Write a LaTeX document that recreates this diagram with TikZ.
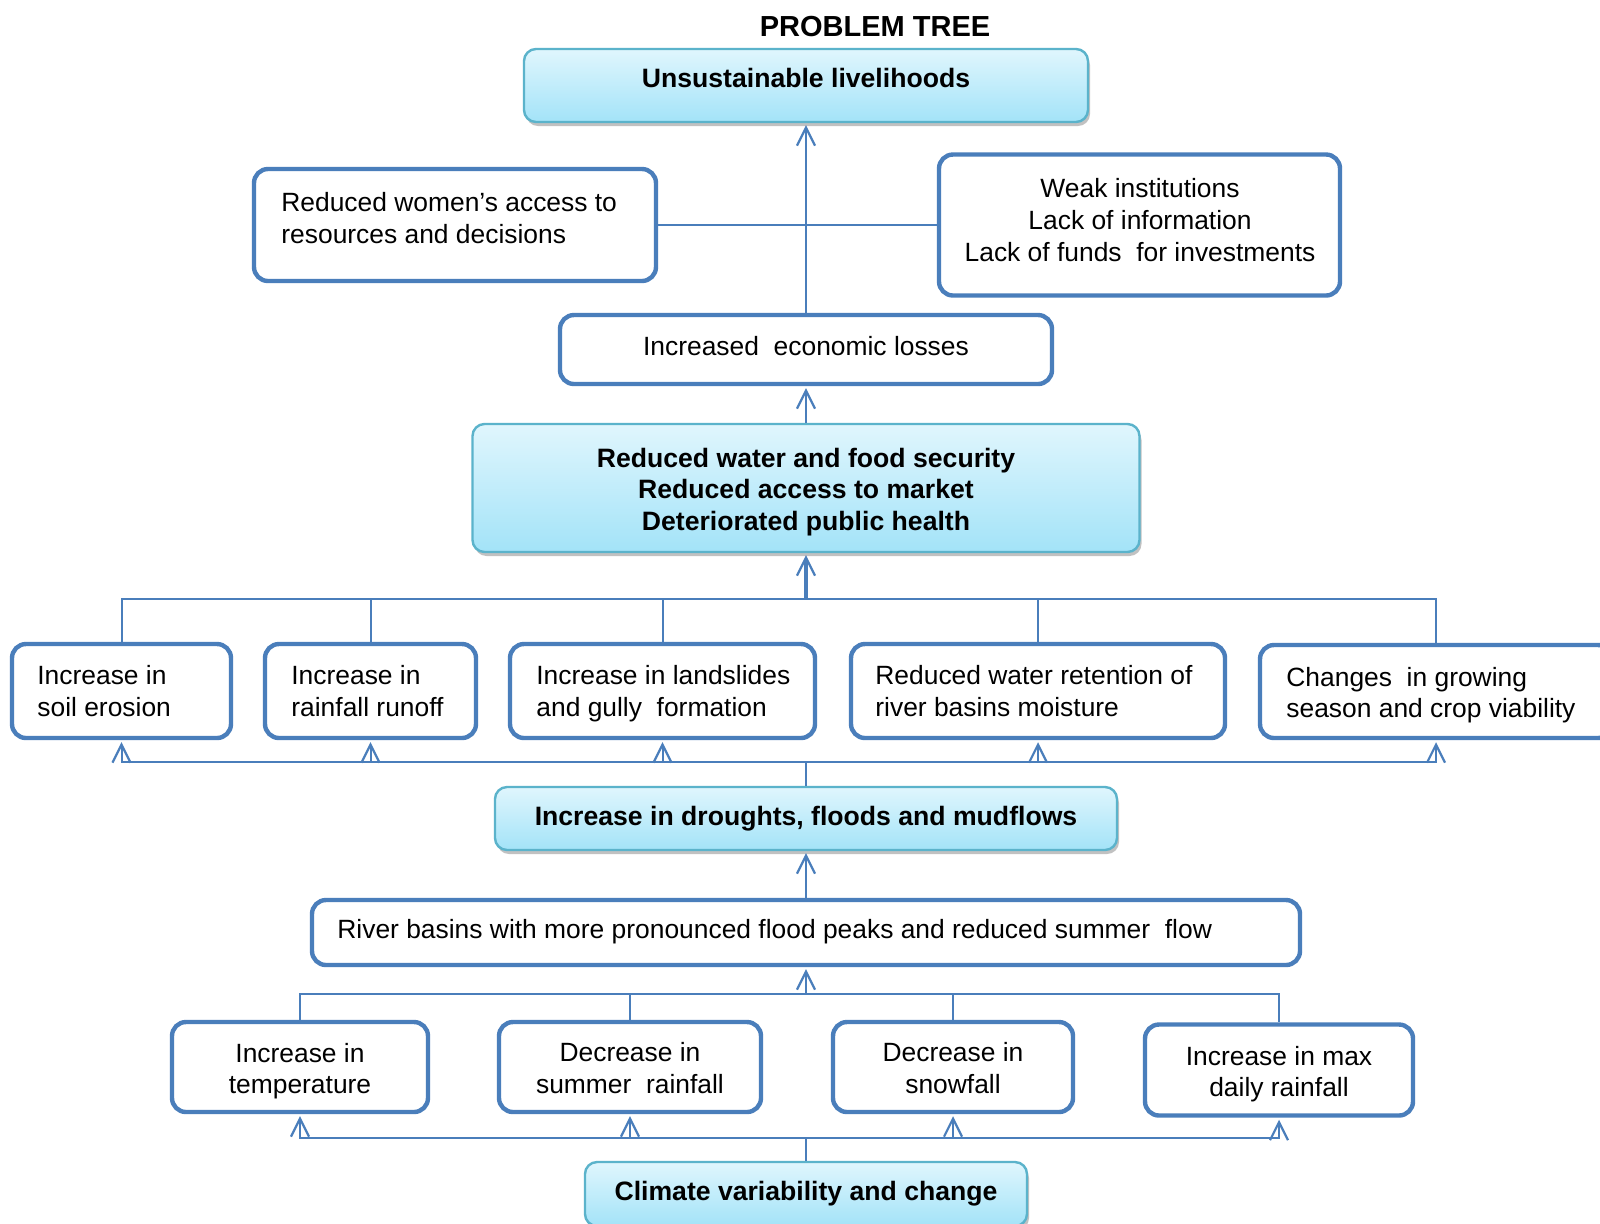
\documentclass[tikz,border=0pt]{standalone}
\usepackage{fontspec}
\setmainfont{Liberation Sans}
\usetikzlibrary{arrows.meta,shadows}
\definecolor{lineblue}{HTML}{4A7EBB}
\definecolor{gtop}{HTML}{E0F6FD}
\definecolor{gbot}{HTML}{A3E3F8}
\definecolor{gedge}{HTML}{5BB3CB}
\begin{document}
\begin{tikzpicture}[x=0.5pt,y=-0.5pt,
  wbox/.style={draw=lineblue, line width=2.2pt, rounded corners=7pt, fill=white, inner sep=0pt},
  gbox/.style={draw=gedge, line width=1.2pt, rounded corners=6pt, top color=gtop, bottom color=gbot, inner sep=0pt,
     drop shadow={shadow xshift=1pt, shadow yshift=-2pt, opacity=0.4, fill=black!60}},
  txt/.style={inner sep=0pt, font=\fontsize{13.2}{15.8}\selectfont},
  btxt/.style={inner sep=0pt, font=\fontsize{13.3}{15.8}\selectfont\bfseries},
  con/.style={draw=lineblue, line width=1pt},
  arr/.style={-{Straight Barb[length=9pt,width=9pt,line width=1.1pt]}, shorten >=1pt}]
\useasboundingbox (0,0) rectangle (1600,1223);
\clip (0,0) rectangle (1600,1223);
\fill[white] (0,0) rectangle (1600,1223);

% title
\node[inner sep=0pt, font=\fontsize{14.5}{17}\selectfont\bfseries] (title) at (875,27) {PROBLEM TREE};

% top
\node[gbox, minimum width=282pt, minimum height=36.5pt] (top) at (806,85.5) {};
\node[btxt] (ttop) at (806,78) {Unsustainable livelihoods};

% side boxes
\node[wbox, minimum width=201pt, minimum height=56pt] (women) at (455,225) {};
\node[txt, align=left, anchor=west] (twomen) at (281,218) {Reduced women’s access to\\resources and decisions};
\node[wbox, minimum width=200.5pt, minimum height=70.5pt] (weak) at (1139.5,225) {};
\node[txt, align=center] (tweak) at (1140,220) {Weak institutions\\Lack of information\\Lack of funds\ \ for investments};

% economic losses
\node[wbox, minimum width=246pt, minimum height=34.5pt] (econ) at (806,349.5) {};
\node[txt] (tecon) at (806,346) {Increased\ \ economic losses};

% middle
\node[gbox, minimum width=333.5pt, minimum height=64pt] (mid) at (806,488) {};
\node[btxt, align=center] (tmid) at (806,492) {Reduced water and food security\\Reduced access to market\\Deteriorated public health};

% effect boxes
\node[wbox, minimum width=109.5pt, minimum height=47pt] (e1) at (121.5,691) {};
\node[txt, align=left, anchor=west] (te1) at (37,691) {Increase in\\soil erosion};
\node[wbox, minimum width=105.5pt, minimum height=47pt] (e2) at (370.5,691) {};
\node[txt, align=left, anchor=west] (te2) at (291,691) {Increase in\\rainfall runoff};
\node[wbox, minimum width=152.5pt, minimum height=47pt] (e3) at (662.5,691) {};
\node[txt, align=left, anchor=west] (te3) at (536,693.5) {Increase in landslides\\and gully\ \ formation};
\node[wbox, minimum width=187pt, minimum height=47pt] (e4) at (1038,691) {};
\node[txt, align=left, anchor=west] (te4) at (875,691) {Reduced water retention of\\river basins moisture};
\node[wbox, minimum width=176pt, minimum height=46.5pt] (e5) at (1436,691.5) {};
\node[txt, align=left, anchor=west] (te5) at (1286,695) {Changes\ \ in growing\\season and crop viability};

% droughts
\node[gbox, minimum width=311pt, minimum height=31.5pt] (dr) at (806,818.5) {};
\node[btxt] (tdr) at (806,819) {Increase in droughts, floods and mudflows};

% river
\node[wbox, minimum width=494pt, minimum height=32.5pt] (river) at (806,932.5) {};
\node[txt, anchor=west] (triver) at (337,932) {River basins with more pronounced flood peaks and reduced summer\ \ flow};

% cause boxes
\node[wbox, minimum width=128pt, minimum height=45pt] (c1) at (300,1067) {};
\node[txt, align=center] (tc1) at (300,1071) {Increase in\\temperature};
\node[wbox, minimum width=131pt, minimum height=45pt] (c2) at (630,1067) {};
\node[txt, align=center] (tc2) at (630,1068) {Decrease in\\summer\ \ rainfall};
\node[wbox, minimum width=120pt, minimum height=45pt] (c3) at (953,1067) {};
\node[txt, align=center] (tc3) at (953,1068) {Decrease in\\snowfall};
\node[wbox, minimum width=134pt, minimum height=45.5pt] (c4) at (1279,1070) {};
\node[txt, align=center] (tc4) at (1279,1074) {Increase in max\\daily rainfall};

% climate
\node[gbox, minimum width=221pt, minimum height=32pt] (cl) at (806,1194) {};
\node[btxt] (tcl) at (806,1194) {Climate variability and change};

% connectors
\draw[con] (women.east) -- (weak.west);
\draw[con,arr] (econ.north) -- (top.south);
\draw[con,arr] (mid.north) -- (econ.south);

\coordinate (bA) at (806,599);
\draw[con] (e1.north) |- (bA) -| (e5.north);
\draw[con] (e2.north) -- (e2.north |- bA);
\draw[con] (e3.north) -- (e3.north |- bA);
\draw[con] (e4.north) -- (e4.north |- bA);
\draw[con,arr,line width=1.6pt] (bA) -- (mid.south);

\coordinate (bB) at (806,762);
\draw[con] (dr.north) -- (bB);
\draw[con,arr] (bB) -| (e1.south);
\draw[con,arr] (bB) -| (e2.south);
\draw[con,arr] (bB) -| (e3.south);
\draw[con,arr] (bB) -| (e4.south);
\draw[con,arr] (bB) -| (e5.south);

\draw[con,arr] (river.north) -- (dr.south);

\coordinate (bC) at (806,994);
\draw[con] (c1.north) |- (bC) -| (c4.north);
\draw[con] (c2.north) -- (c2.north |- bC);
\draw[con] (c3.north) -- (c3.north |- bC);
\draw[con,arr] (bC) -- (river.south);

\coordinate (bD) at (806,1138);
\draw[con] (cl.north) -- (bD);
\draw[con,arr] (bD) -| (c1.south);
\draw[con,arr] (bD) -| (c2.south);
\draw[con,arr] (bD) -| (c3.south);
\draw[con,arr] (bD) -| (c4.south);
\end{tikzpicture}
\end{document}
